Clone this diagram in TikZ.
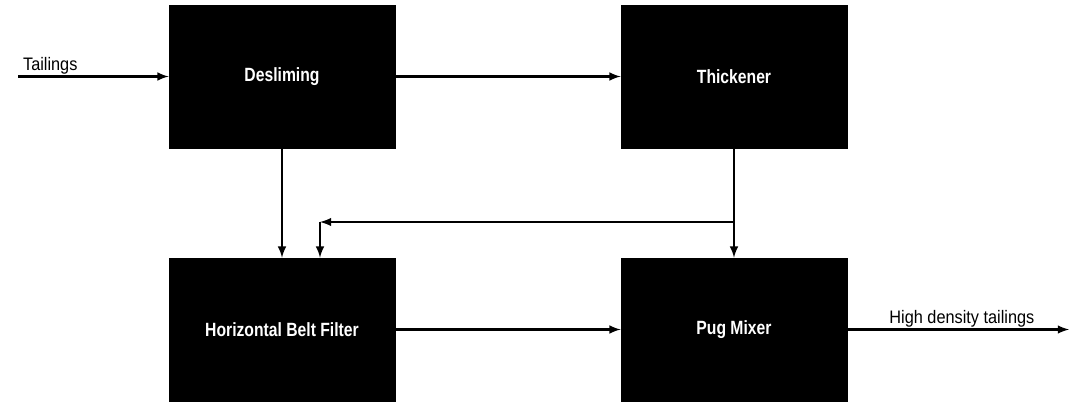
\documentclass[tikz,border=0pt]{standalone}
\usepackage{fontspec}
\setmainfont{Liberation Sans}
\newfontfamily\boxfont{Liberation Sans}[FakeStretch=0.82]
\newfontfamily\lblfont{Liberation Sans}[FakeStretch=0.9]
\usetikzlibrary{arrows, positioning}

\begin{document}
\begin{tikzpicture}[
    node distance=0.9cm and 2.2cm,
    unit/.style={rectangle, fill=black, draw=black, minimum width=4.52cm, minimum height=2.86cm, align=center, text=white, font=\boxfont\fontsize{10.9}{12}\selectfont\bfseries},
    lbl/.style={font=\lblfont\fontsize{10.3}{12}\selectfont, inner sep=1pt},
    arrow/.style={-latex, line width=1.2pt}
  ]
    \useasboundingbox (0,0) rectangle (21.38,8.02);

    % Units
    \node[unit] (desl) at (5.64,6.49) {Desliming};
    \node[unit] (thick) at (14.68,6.49) {Thickener};
    \node[unit] (hbf) at (5.64,1.43) {Horizontal Belt Filter};
    \node[unit] (pug) at (14.68,1.43) {Pug Mixer};

    % Free ends
    \coordinate (tin) at (0.36,6.49);
    \coordinate (tout) at (21.38,1.43);
    \coordinate (tap) at (14.68,3.58);
    \coordinate (bend) at (6.4,3.58);

    % Arrows
    \draw[arrow] (tin) -- (desl);
    \draw[arrow] (desl) -- (thick);
    \draw[arrow] (desl) -- (hbf);
    \draw[arrow] (thick) -- (pug);
    \draw[arrow] (tap) -- (bend);
    \draw[arrow] (bend) -- (bend |- hbf.north);
    \draw[arrow] (hbf) -- (pug);
    \draw[arrow] (pug) -- (tout);

    % Labels
    \node[lbl, above right=0cm and 0.06cm of tin] (tlbl) {Tailings};
    \node[lbl, above right=0cm and 0.8cm of pug.east] (olbl) {High density tailings};
  \end{tikzpicture}
\end{document}
